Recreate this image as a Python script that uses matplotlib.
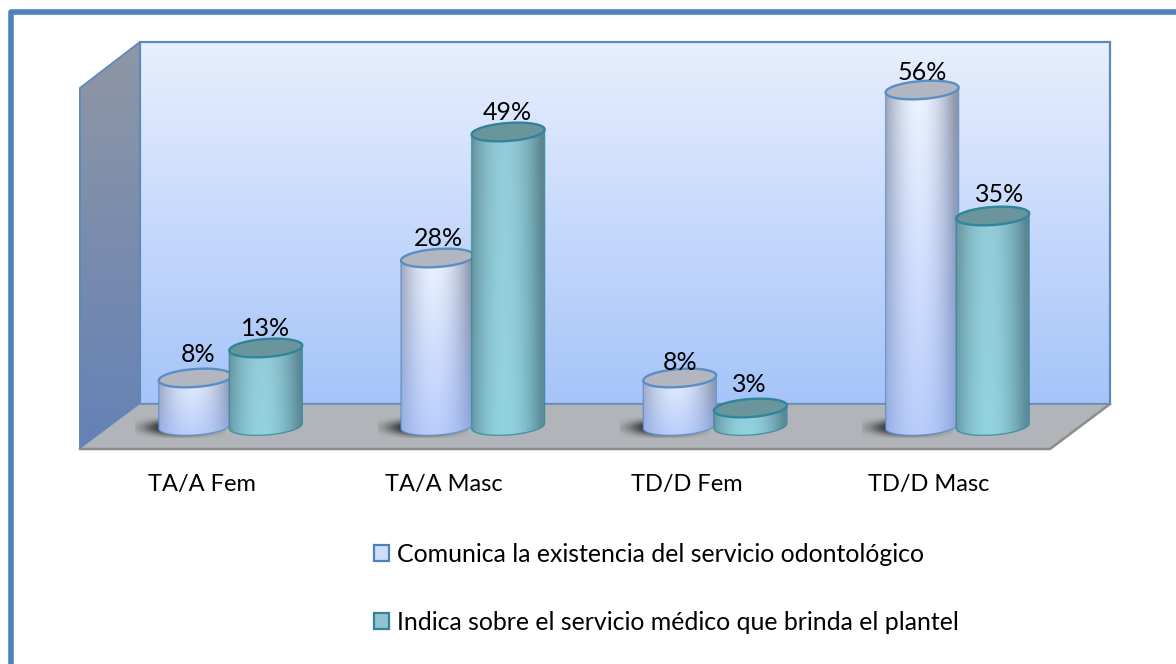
import numpy as np
import matplotlib.pyplot as plt
from matplotlib.patches import Polygon, Patch
from matplotlib.colors import LinearSegmentedColormap, to_rgb

plt.rcParams['font.family'] = ['Lato', 'DejaVu Sans']

categories = ['TA/A Fem', 'TA/A Masc', 'TD/D Fem', 'TD/D Masc']
series_names = ['Comunica la existencia del servicio odontológico',
                'Indica sobre el servicio médico que brinda el plantel']
comunica = [8, 28, 8, 56]
indica = [13, 49, 3, 35]

W, H = 1176, 664
fig = plt.figure(figsize=(W/100, H/100), dpi=100, facecolor='white')

#> background axes in pixels: frame, walls, floor
bg = fig.add_axes([0, 0, 1, 1])
bg.axis('off')


def gradPoly(a, pts, c1, c2, **kw):
    #> polygon with a vertical gradient
    cmap = LinearSegmentedColormap.from_list('g', [c1, c2])
    pts = np.array(pts)
    poly = Polygon(pts, closed=True, fc='none', **kw)
    a.add_patch(poly)
    im = a.imshow(np.linspace(0, 1, 256)[:, None], cmap=cmap, aspect='auto', zorder=poly.get_zorder()-0.1,
                  extent=[pts[:, 0].min(), pts[:, 0].max(), pts[:, 1].max(), pts[:, 1].min()])
    im.set_clip_path(poly)


#> frame has only a left and a top side in view
bg.plot([11, 11, W+5], [H+5, 11.5, 11.5], color='#4f81bd', lw=4.0, solid_joinstyle='round', zorder=1)

line = '#5f8ab8'
gradPoly(bg, [(140, 42), (1110, 42), (1110, 404), (140, 404)], '#e8effd', '#a5c4f9', ec=line, lw=1.6, zorder=2)
gradPoly(bg, [(80, 88), (140, 42), (140, 404), (80, 449)], '#8f97a5', '#6481b6', ec=line, lw=1.4, zorder=2)
bg.add_patch(Polygon([(140, 404), (1110, 404), (1050, 449), (80, 449)], fc='#b1b4b8', ec='none', zorder=3))
bg.plot([80, 1050, 1110], [449, 449, 404], color='#8c8c8c', lw=1.8, zorder=4)
bg.plot([140, 1110], [404, 404], color='#6f8db5', lw=1.2, zorder=4)
bg.set_xlim(0, W)
bg.set_ylim(H, 0)

#> value axes on top: y is percent, x is category number
left, right, top, bot = 80, 1110, 42, 449
ax = fig.add_axes([left/W, 1-bot/H, (right-left)/W, (bot-top)/H], facecolor='none')
x0, dx = 230.5, 242.3
y0, dy = 426.0, 6.0
for s in ax.spines.values():
    s.set_visible(False)
ax.set_yticks([])
#> the 3D look pushes the category labels left of the bars
label_shift = -28.5/dx
ax.set_xticks([i + label_shift for i in range(len(categories))])
ax.set_xticklabels(categories, fontsize=17)
ax.tick_params(axis='x', length=0, pad=18, colors='black')

half_w = 36.5/dx
half_h = 9.0/dy
tilt = 2.5/dy


def ellipsePts(cx, yc, t):
    return np.c_[cx + half_w*np.cos(t), yc + half_h*np.sin(t) + tilt*np.cos(t)]


def shadow(cx, z):
    #> soft dark patch on the floor, left of the base
    gx, gy = np.meshgrid(np.linspace(-1, 1, 120), np.linspace(-1, 1, 60))
    img = np.zeros((60, 120, 4))
    img[..., :3] = 0.15
    img[..., 3] = np.clip(1.1*np.exp(-(gx**2 + gy**2)**1.5*2.2), 0, 0.85)
    ax.imshow(img, aspect='auto', zorder=z, extent=[cx-60/dx, cx+30/dx, -12/dy, 9/dy], interpolation='bilinear')


def cylinder(cx, val, side_cols, mid_cols, edge, topcol, z):
    #> side of the cylinder: lower half of the base, then upper edge of the top
    lower = ellipsePts(cx, 0, np.linspace(np.pi, 2*np.pi, 50))
    upper = ellipsePts(cx, val, np.linspace(0, np.pi, 50))
    body = Polygon(np.r_[lower, upper], closed=True, fc='none', ec=edge, lw=1.0, alpha=0.75, zorder=z+0.2)
    ax.add_patch(body)

    #> horizontal shading crossed with a vertical tint
    u = np.linspace(-1, 1, 120)
    light = np.clip(1 - np.abs(u + 0.1)**1.9, 0, 1)[None, :, None]
    v = np.linspace(0, 1, 80)[:, None, None]
    sc, mc = [[np.array(to_rgb(c)) for c in cc] for cc in (side_cols, mid_cols)]
    side = sc[0]*(1-v) + sc[1]*v
    mid = mc[0]*(1-v) + mc[1]*v
    img = side*(1-light) + mid*light
    im = ax.imshow(img, aspect='auto', zorder=z, interpolation='bilinear',
                   extent=[cx-half_w, cx+half_w, -half_h-tilt, val+half_h+tilt])
    im.set_clip_path(body)

    ax.add_patch(Polygon(ellipsePts(cx, val, np.linspace(0, 2*np.pi, 100)), fc=topcol, ec=edge, lw=1.7, zorder=z+0.3))


off = 35.3/dx
#> small nudges of the data labels, in pixels
blue_nudge = [(3, 23), (1, 20), (0, 16), (0, 17)]
teal_nudge = [(0, 20), (-1, 20), (-1, 23), (7, 21)]
for i in range(len(categories)):
    shadow(i-off, 5+i)
    cylinder(i-off, comunica[i], ('#8f96a8', '#8fa8e0'), ('#eef4ff', '#b8cdfb'), '#5b8ec6', '#b2b6c0', 10+i)
    cylinder(i+off, indica[i], ('#5c8791', '#5c8f9c'), ('#93cbd9', '#93d3e0'), '#31859b', '#6b959c', 10.5+i)
    ax.annotate(f'{comunica[i]}%', (i-off, comunica[i]), xytext=(blue_nudge[i][0]*0.72, blue_nudge[i][1]*0.72),
                textcoords='offset points', ha='center', va='center', fontsize=18, zorder=30)
    ax.annotate(f'{indica[i]}%', (i+off, indica[i]), xytext=(teal_nudge[i][0]*0.72, teal_nudge[i][1]*0.72),
                textcoords='offset points', ha='center', va='center', fontsize=18, zorder=30)
ax.set_xlim((left-x0)/dx, (right-x0)/dx)
ax.set_ylim((y0-bot)/dy, (y0-top)/dy)

handles = [Patch(fc='#cfdcfb', ec='#4f81bd', lw=1.6), Patch(fc='#93c3d0', ec='#31859b', lw=1.6)]
fig.legend(handles, series_names, loc='upper left', bbox_to_anchor=(374/W, 1-543/H), frameon=False,
           fontsize=17.9, handlelength=0.62, handleheight=0.62, handletextpad=0.3, labelspacing=1.8,
           borderpad=0, borderaxespad=0)

fig.savefig('out.png', dpi=100)
